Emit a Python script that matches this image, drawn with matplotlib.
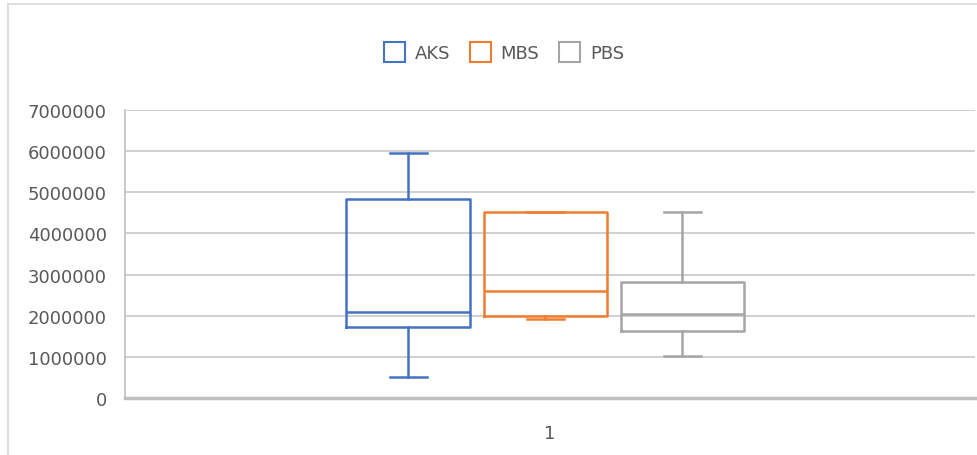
import matplotlib
matplotlib.use('Agg')
import matplotlib.pyplot as plt
from matplotlib.patches import Patch
from matplotlib.lines import Line2D

series = ['AKS', 'MBS', 'PBS']
colors = ['#4472C4', '#ED7D31', '#A5A5A5']
whislo = [510000, 1910000, 1020000]
q1 = [1720000, 2000000, 1640000]
med = [2080000, 2610000, 2040000]
q3 = [4840000, 4520000, 2810000]
whishi = [5960000, 4520000, 4520000]
category = ['1']

W, H = 978, 456
fig = plt.figure(figsize=(W / 100, H / 100), dpi=100)
plt.rcParams['font.family'] = ['DejaVu Sans']
text_color = '#595959'

ax = fig.add_axes([125 / W, (H - 399) / H, (975 - 125) / W, (399 - 111) / H])

positions = [-1.035, -0.035, 0.965]
for i, name in enumerate(series):
    stats = [{'whislo': whislo[i], 'q1': q1[i], 'med': med[i],
              'q3': q3[i], 'whishi': whishi[i], 'label': name}]
    c = colors[i]
    ax.bxp(stats, positions=[positions[i]], widths=0.9, capwidths=0.27,
           showfliers=False, showmeans=False, manage_ticks=False,
           boxprops=dict(color=c, linewidth=1.8),
           medianprops=dict(color=c, linewidth=1.8),
           whiskerprops=dict(color=c, linewidth=1.8),
           capprops=dict(color=c, linewidth=1.8))

ax.set_xlim(-3.1, 3.1)
ax.set_ylim(0, 7000000)
ax.set_yticks(range(0, 7000001, 1000000))
ax.set_yticklabels([str(v) for v in range(0, 7000001, 1000000)])
ax.set_xticks([0])
ax.set_xticklabels(category)
ax.tick_params(axis='y', length=0, pad=13, labelsize=13, labelcolor=text_color)
ax.tick_params(axis='x', length=0, pad=19, labelsize=13, labelcolor=text_color)
ax.grid(axis='y', color='#D0D0D0', linewidth=1.4)
ax.set_axisbelow(True)
for s in ['top', 'right']:
    ax.spines[s].set_visible(False)
ax.spines['left'].set_color('#BFBFBF')
ax.spines['left'].set_linewidth(1.2)
ax.spines['bottom'].set_color('#BFBFBF')
ax.spines['bottom'].set_linewidth(2.5)

handles = [Patch(facecolor='white', edgecolor=c, linewidth=1.5) for c in colors]
fig.legend(handles, series, loc='center', bbox_to_anchor=(504 / W, 1 - 53 / H),
           ncol=3, frameon=False, fontsize=13, labelcolor=text_color,
           handlelength=1.15, handleheight=1.4, handletextpad=0.55,
           columnspacing=1.1)

# chart area border (top and left edges visible)
fig.add_artist(Line2D([8 / W, 1], [1 - 4.5 / H, 1 - 4.5 / H], color='#D9D9D9', linewidth=1.2))
fig.add_artist(Line2D([8 / W, 8 / W], [0, 1 - 4.5 / H], color='#D9D9D9', linewidth=1.2))

fig.savefig('out.png', dpi=100)
